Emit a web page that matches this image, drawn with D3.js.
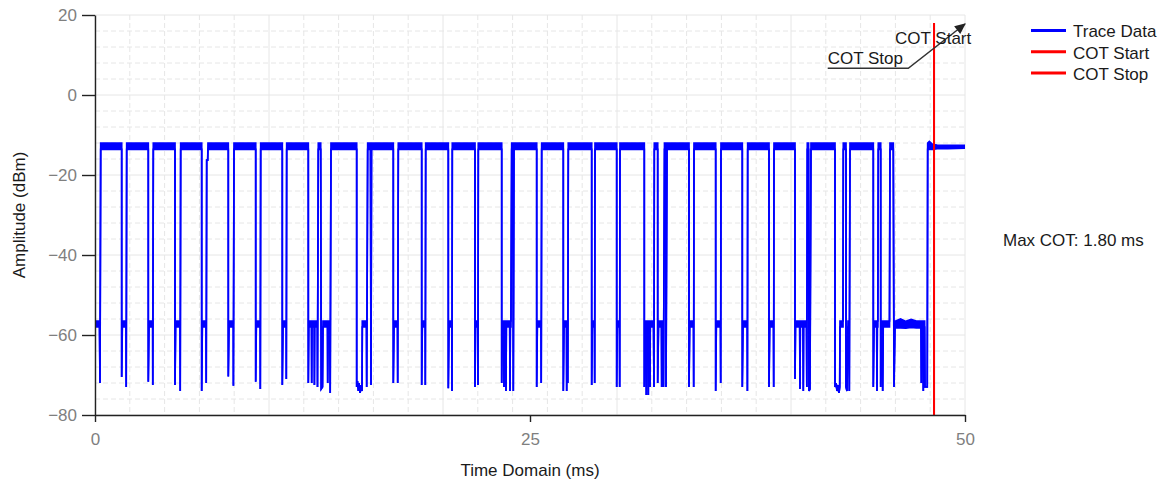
<!DOCTYPE html>
<html><head><meta charset="utf-8">
<script src="https://cdn.jsdelivr.net/npm/d3@7"></script>
<style>
body{margin:0;background:#fff;}
svg{display:block;font-family:"Liberation Sans",Arial,sans-serif;}
</style>
</head><body>
<svg id="chart" width="1171" height="488"></svg>
<script>
// ---------------- data ----------------
const xTicks = [0, 25, 50];
const yTicks = [20, 0, -20, -40, -60, -80];
const xGrid = [0,2,4,6,8,10,12,14,16,18,20,22,24,26,28,30,32,34,36,38,40,42,44,46,48,50];
const yGrid = [20,16,12,8,4,0,-4,-8,-12,-16,-20,-24,-28,-32,-36,-40,-44,-48,-52,-56,-60,-64,-68,-72,-76,-80];
const seriesNames = ["Trace Data", "COT Start", "COT Stop"];
const cotStart = 48.22;   // ms
const cotStop = 48.22;    // ms
const cotLineTop = 18;    // dBm
const maxCotLabel = "Max COT: 1.80 ms";
// trace points: [time ms, upper dBm, lower dBm (optional, = upper if absent)]
const trace = [
 [0,-56.5,-58],[0.259,-56.5,-58],[0.287,-72],[0.328,-12,-13.6],
 [1.534,-12,-13.6],[1.534,-70.5],[1.569,-56.5,-58],[1.782,-56.5,-58],[1.793,-73],[1.822,-12,-13.6],
 [3.063,-12,-13.6],[3.063,-71.7],[3.103,-56.5,-58],[3.316,-56.5,-58],[3.322,-72.5],[3.351,-12,-13.6],
 [4.598,-12,-13.6],[4.598,-72.5],[4.632,-56.5,-58],[4.885,-56.5,-58],[4.897,-74],[4.925,-12,-13.6],
 [6.132,-12,-13.6],[6.132,-74],[6.167,-56.5,-58],[6.379,-56.5,-58],[6.391,-72],[6.420,-16.3],[6.477,-16.3],[6.494,-12,-13.6],
 [7.661,-12,-13.6],[7.661,-70.4],[7.701,-56.5,-58],[7.948,-56.5,-58],[7.954,-72.7],[7.989,-12,-13.6],
 [9.236,-12,-13.6],[9.236,-71.7],[9.270,-56.5,-58],[9.494,-56.5,-58],[9.500,-73.5],[9.523,-12,-13.6],
 [10.764,-12,-13.6],[10.764,-72.5],[10.805,-56.5,-58],[10.989,-56.5,-58],[10.994,-71],[11.017,-12,-13.6],
 [12.259,-12,-13.6],[12.259,-72],[12.287,-56.5,-58],[12.443,-56.5,-58],[12.454,-72],[12.471,-56.5,-58],[12.598,-56.5,-58],[12.609,-72.5],[12.626,-56.5,-58],[12.776,-56.5,-58],[12.787,-73],[12.833,-12,-13.6],[12.971,-12,-13.6],[13.000,-73.5],[13.075,-73],[13.103,-56.5,-58],[13.362,-56.5,-58],[13.374,-72],[13.402,-56.5,-58],[13.494,-56.5,-58],[13.517,-74.5],[13.563,-12,-13.6],
 [15.040,-12,-13.6],[15.040,-73],[15.086,-71.5],[15.132,-74],[15.172,-72],[15.230,-74.5],[15.287,-72.5],[15.345,-74],[15.362,-56.5,-58],[15.603,-56.5,-58],[15.615,-73],[15.672,-12,-13.6],[15.833,-12,-13.6],[15.862,-72.5],[15.891,-12,-13.6],
 [17.144,-12,-13.6],[17.144,-72],[17.184,-56.5,-58],[17.385,-56.5,-58],[17.397,-72],[17.431,-12,-13.6],
 [18.776,-12,-13.6],[18.776,-72.5],[18.810,-56.5,-58],[18.977,-56.5,-58],[18.983,-72.5],[19.006,-12,-13.6],
 [20.305,-12,-13.6],[20.305,-73.3],[20.345,-56.5,-58],[20.506,-56.5,-58],[20.517,-74],[20.534,-12,-13.6],
 [21.839,-12,-13.6],[21.839,-73],[21.868,-56.5,-58],[22.000,-56.5,-58],[22.011,-72.5],[22.029,-12,-13.6],
 [23.374,-12,-13.6],[23.374,-72],[23.408,-56.5,-58],[23.490,-56.5,-58],[23.506,-73],[23.520,-56.5,-58],[23.605,-56.5,-58],[23.621,-74],[23.640,-56.5,-58],[23.835,-56.5,-58],[23.851,-74],[23.870,-56.5,-58],[23.905,-56.5,-58],[23.948,-12,-13.6],[24.020,-12,-13.6],[24.040,-74],[24.080,-12,-13.6],
 [25.385,-12,-13.6],[25.385,-73],[25.420,-56.5,-58],[25.632,-56.5,-58],[25.644,-72],[25.672,-12,-13.6],
 [26.914,-12,-13.6],[26.914,-74],[26.954,-56.5,-58],[27.098,-56.5,-58],[27.109,-74],[27.126,-56.5,-58],[27.160,-56.5,-58],[27.172,-72],[27.201,-12,-13.6],
 [28.546,-12,-13.6],[28.546,-72.5],[28.580,-56.5,-58],[28.707,-56.5,-58],[28.718,-72],[28.736,-12,-13.6],
 [29.983,-12,-13.6],[29.983,-73],[30.017,-56.5,-58],[30.144,-56.5,-58],[30.155,-73],[30.172,-12,-13.6],
 [31.569,-12,-13.6],[31.569,-73],[31.609,-56.5,-58],[31.670,-56.5,-58],[31.684,-75],[31.700,-56.5,-58],[31.785,-56.5,-58],[31.799,-75],[31.815,-56.5,-58],[31.885,-56.5,-58],[31.897,-73],[31.910,-56.5,-58],[32.098,-56.5,-58],[32.126,-73],[32.144,-12,-13.6],[32.339,-12,-13.6],[32.339,-72],[32.385,-56.5,-58],[32.555,-56.5,-58],[32.569,-73],[32.585,-56.5,-58],[32.660,-56.5,-58],[32.672,-73],[32.730,-12,-13.6],[32.800,-12,-13.6],[32.816,-73],[32.874,-12,-13.6],
 [34.138,-12,-13.6],[34.138,-73],[34.178,-56.5,-58],[34.397,-56.5,-58],[34.408,-73],[34.425,-12,-13.6],
 [35.672,-12,-13.6],[35.672,-74],[35.707,-56.5,-58],[35.948,-56.5,-58],[35.960,-72],[35.977,-12,-13.6],
 [37.201,-12,-13.6],[37.201,-73],[37.241,-56.5,-58],[37.483,-56.5,-58],[37.494,-74],[37.511,-12,-13.6],
 [38.736,-12,-13.6],[38.736,-73],[38.776,-56.5,-58],[38.994,-56.5,-58],[39.006,-73],[39.023,-12,-13.6],
 [40.230,-12,-13.6],[40.230,-71],[40.259,-56.5,-58],[40.500,-56.5,-58],[40.517,-73.5],[40.535,-56.5,-58],[40.690,-56.5,-58],[40.707,-74],[40.725,-56.5,-58],[40.890,-56.5,-58],[40.910,-73],[40.937,-12,-13.6],[41.010,-12,-13.6],[41.034,-74],[41.090,-73.5],[41.149,-12,-13.6],
 [42.529,-12,-13.6],[42.529,-73],[42.586,-72],[42.644,-74],[42.701,-72.5],[42.759,-74.5],[42.800,-73],[42.816,-56.5,-58],[42.989,-56.5,-58],[43.006,-12,-13.6],[43.161,-12,-13.6],[43.161,-73],[43.218,-74],[43.276,-56.5,-58],[43.330,-56.5,-58],[43.351,-74],[43.391,-12,-13.6],
 [44.730,-12,-13.6],[44.730,-73],[44.770,-56.5,-58],[44.925,-56.5,-58],[44.943,-74],[44.960,-56.5,-58],[44.990,-56.5,-58],[45.017,-12,-13.6],[45.155,-12,-13.6],[45.155,-73],[45.210,-56.5,-58],[45.255,-56.5,-58],[45.270,-74],[45.300,-56.5,-58],[45.661,-56.5,-58],[45.690,-12,-13.6],[45.879,-12,-13.6],[45.920,-73],[45.977,-56.6,-58.2],[46.300,-56.0,-58.2],[46.600,-56.6,-58.3],[46.900,-56.1,-58.1],[47.200,-56.5,-58.2],[47.471,-56.5,-58.2],[47.490,-72],[47.511,-56.5,-58],[47.585,-56.5,-58],[47.603,-74],[47.620,-56.5,-58],[47.680,-56.5,-58],[47.701,-73],[47.830,-73],[47.856,-12,-13.6],
 [47.950,-11.6,-13.6],[48.150,-12.4,-13.6],[48.400,-12.5,-13.4],[49.000,-12.6,-13.4],[50,-12.6,-13.3]
];

// ---------------- chart ----------------
const svg = d3.select("#chart");
const x = d3.scaleLinear().domain([0, 50]).range([95, 965]);
const y = d3.scaleLinear().domain([-80, 20]).range([415, 15]);
const FS = 17;

// grid
const grid = svg.append("g");
grid.selectAll("line.vg").data(xGrid).join("line")
  .attr("x1", d => x(d)).attr("x2", d => x(d))
  .attr("y1", y(20)).attr("y2", y(-80))
  .attr("stroke", "#e6e6e6").attr("stroke-width", 1)
  .attr("stroke-dasharray", d => (d % 10 === 0) ? null : "5,3");
grid.selectAll("line.hg").data(yGrid).join("line")
  .attr("x1", x(0)).attr("x2", x(50))
  .attr("y1", d => y(d)).attr("y2", d => y(d))
  .attr("stroke", "#e6e6e6").attr("stroke-width", 1)
  .attr("stroke-dasharray", d => (d % 20 === 0) ? null : "5,3");

// trace
const lo = d => (d.length > 2 ? d[2] : d[1]);
const area = d3.area().x(d => x(d[0])).y0(d => y(lo(d))).y1(d => y(d[1]));
svg.append("path").datum(trace).attr("d", area).attr("fill", "#0000ff");
const lineHi = d3.line().x(d => x(d[0])).y(d => y(d[1]));
const lineLo = d3.line().x(d => x(d[0])).y(d => y(lo(d)));
svg.append("path").datum(trace).attr("d", lineHi).attr("fill", "none").attr("stroke", "#0000ff").attr("stroke-width", 1.7);
svg.append("path").datum(trace).attr("d", lineLo).attr("fill", "none").attr("stroke", "#0000ff").attr("stroke-width", 1.7);

// COT lines
[cotStart, cotStop].forEach(t => {
  svg.append("line").attr("x1", x(t)).attr("x2", x(t)).attr("y1", y(cotLineTop)).attr("y2", y(-80))
    .attr("stroke", "#ff0000").attr("stroke-width", 2);
});

// axes
const yAxis = svg.append("g").attr("transform", `translate(${x(0)},0)`)
  .call(d3.axisLeft(y).tickValues(yTicks).tickSize(13).tickSizeOuter(0).tickPadding(5));
const xAxis = svg.append("g").attr("transform", `translate(0,${y(-80)})`)
  .call(d3.axisBottom(x).tickValues(xTicks).tickSize(7).tickSizeOuter(0).tickPadding(11));
[yAxis, xAxis].forEach(a => {
  a.select(".domain").attr("stroke", "#222").attr("stroke-width", 1.4);
  a.selectAll(".tick line").attr("stroke", "#222").attr("stroke-width", 1.4);
  a.selectAll(".tick text").attr("fill", "#7f7f7f").attr("font-size", FS).attr("font-family", "Liberation Sans, Arial, sans-serif");
});

// axis titles
svg.append("text").attr("x", x(25)).attr("y", 476).attr("text-anchor", "middle")
  .attr("font-size", FS).attr("fill", "#1a1a1a").text("Time Domain (ms)");
svg.append("text").attr("transform", `translate(25,${y(-30)}) rotate(-90)`).attr("text-anchor", "middle")
  .attr("font-size", FS).attr("fill", "#1a1a1a").text("Amplitude (dBm)");

// annotation
svg.append("defs").append("marker").attr("id", "arr").attr("viewBox", "0 -5 10 10")
  .attr("refX", 9).attr("refY", 0).attr("markerUnits", "userSpaceOnUse")
  .attr("markerWidth", 13).attr("markerHeight", 11).attr("orient", "auto")
  .append("path").attr("d", "M0,-4.5L10,0L0,4.5Z").attr("fill", "#222");
const annPts = [[42.11, 6.68], [46.74, 6.68], [50.0, 17.75]];
svg.append("path").datum(annPts)
  .attr("d", d3.line().x(d => x(d[0])).y(d => y(d[1])))
  .attr("fill", "none").attr("stroke", "#333").attr("stroke-width", 1.5).attr("marker-end", "url(#arr)");
svg.append("text").attr("x", x(45.98)).attr("y", y(12.75)).attr("font-size", FS).attr("fill", "#1a1a1a").text("COT Start");
svg.append("text").attr("x", x(42.11)).attr("y", y(7.75)).attr("font-size", FS).attr("fill", "#1a1a1a").text("COT Stop");

// legend
const legColors = ["#0000ff", "#ff0000", "#ff0000"];
const leg = svg.append("g");
seriesNames.forEach((name, i) => {
  const cy = 30.5 + i * 21.2;
  leg.append("line").attr("x1", 1031).attr("x2", 1066).attr("y1", cy).attr("y2", cy)
    .attr("stroke", legColors[i]).attr("stroke-width", 3);
  leg.append("text").attr("x", 1073).attr("y", cy + 6.8).attr("font-size", FS).attr("fill", "#1a1a1a").text(name);
});
svg.append("text").attr("x", 1003).attr("y", 246).attr("font-size", FS).attr("fill", "#1a1a1a").text(maxCotLabel);
</script>
</body></html>
